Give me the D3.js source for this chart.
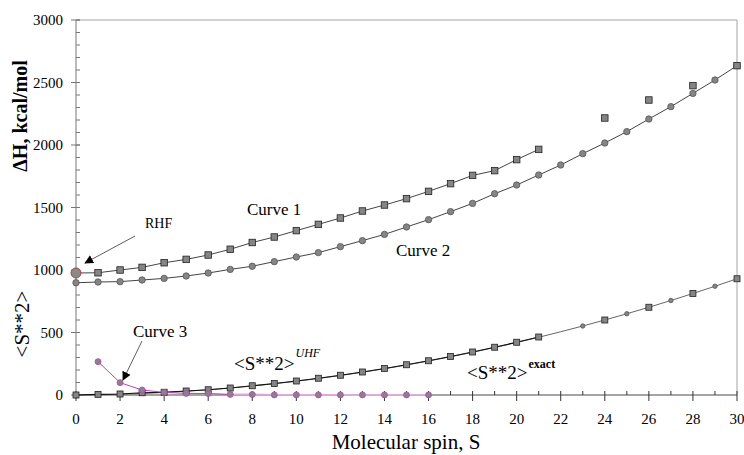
<!DOCTYPE html>
<html>
<head>
<meta charset="utf-8">
<script src="https://cdn.jsdelivr.net/npm/d3@7"></script>
<style>
  body { margin: 0; background: #fff; }
</style>
</head>
<body>
<svg id="chart" width="744" height="455"></svg>
<script>
// ── data ──────────────────────────────────────────────
const spin = d3.range(0, 31);
const curve1S = [0, 1, 2, 3, 4, 5, 6, 7, 8, 9, 10, 11, 12, 13, 14, 15, 16, 17, 18, 19, 20, 21];
const curve1H = [976, 978, 1000, 1021, 1058, 1085, 1120, 1166, 1220, 1264, 1315, 1365, 1416, 1472, 1520, 1571, 1629, 1691, 1757, 1795, 1883, 1965];
const extraS = [24, 26, 28, 30];
const extraH = [2216, 2360, 2475, 2635];
const curve2H = [898, 904, 907, 920, 933, 952, 976, 1005, 1030, 1067, 1104, 1139, 1187, 1235, 1285, 1344,
  1403, 1467, 1533, 1610, 1680, 1760, 1840, 1931, 2016, 2107, 2208, 2307, 2413, 2520, 2635];
const curve3S = [1, 2, 3, 4, 5, 6, 7, 8, 9, 10, 11, 12, 13, 14, 15, 16];
const curve3H = [267, 99, 40, 21, 13, 12, 5, 4, 1, 1, 1, 1, 1, 1, 1, 1];
const exactS2 = [0, 2, 6, 12, 20, 30, 42, 56, 72, 90, 110, 132, 156, 182, 210, 240, 272, 306, 342, 380, 420,
  462, 506, 552, 600, 650, 702, 756, 812, 870, 930];
const uhfS = [0, 1, 2, 3, 4, 5, 6, 7, 8, 9, 10, 11, 12, 13, 14, 15, 16, 17, 18, 19, 20, 21, 24, 26, 28, 30];
const uhfS2 = [0, 5, 8, 18, 22, 32, 42, 56, 74, 92, 112, 134, 158, 184, 212, 242, 274, 308, 344, 382, 422, 464, 600, 702, 812, 930];
const xTicks = d3.range(0, 31, 2);
const yTicks = d3.range(0, 3001, 500);

// ── scales ────────────────────────────────────────────
const svg = d3.select('#chart');
const x = d3.scaleLinear().domain([0, 30]).range([76, 737]);
const y = d3.scaleLinear().domain([0, 3000]).range([395, 20]);
const axisCol = '#a4a4a4';
const serif = 'Liberation Serif';

// frame (top + right)
svg.append('line').attr('x1', x(0)).attr('x2', x(30)).attr('y1', y(3000)).attr('y2', y(3000))
  .attr('stroke', axisCol).attr('stroke-width', 1);
svg.append('line').attr('x1', x(30)).attr('x2', x(30)).attr('y1', y(3000)).attr('y2', y(0))
  .attr('stroke', axisCol).attr('stroke-width', 1);

// y axis
const yAxis = svg.append('g');
yAxis.append('line').attr('x1', x(0)).attr('x2', x(0)).attr('y1', y(3000)).attr('y2', y(0) + 4)
  .attr('stroke', axisCol).attr('stroke-width', 1.5);
yAxis.selectAll('.minor').data(d3.range(0, 3001, 100)).enter().append('line')
  .attr('x1', x(0)).attr('x2', x(0) + 4).attr('y1', d => y(d)).attr('y2', d => y(d))
  .attr('stroke', '#777');
yAxis.selectAll('.major').data(yTicks).enter().append('line')
  .attr('x1', x(0) - 5).attr('x2', x(0) + 4).attr('y1', d => y(d)).attr('y2', d => y(d))
  .attr('stroke', '#777');
yAxis.selectAll('text').data(yTicks).enter().append('text')
  .attr('x', 63).attr('y', d => y(d) + 5).attr('text-anchor', 'end')
  .attr('font-family', serif).attr('font-size', 15).text(d => d);

// x axis
const xAxis = svg.append('g');
xAxis.append('line').attr('x1', x(0) - 4).attr('x2', x(30)).attr('y1', y(0)).attr('y2', y(0))
  .attr('stroke', axisCol).attr('stroke-width', 2);
xAxis.selectAll('.minor').data(spin).enter().append('line')
  .attr('x1', d => x(d)).attr('x2', d => x(d)).attr('y1', y(0) - 4).attr('y2', y(0))
  .attr('stroke', '#333');
xAxis.selectAll('.major').data(xTicks).enter().append('line')
  .attr('x1', d => x(d)).attr('x2', d => x(d)).attr('y1', y(0)).attr('y2', y(0) + 6)
  .attr('stroke', '#333');
xAxis.selectAll('text').data(xTicks).enter().append('text')
  .attr('x', d => x(d)).attr('y', 424).attr('text-anchor', 'middle')
  .attr('font-family', serif).attr('font-size', 15).text(d => d);

// ── lines ─────────────────────────────────────────────
const line = d3.line().x(d => x(d[0])).y(d => y(d[1]));
const zip = (a, b) => a.map((v, i) => [v, b[i]]);

const c1 = zip(curve1S, curve1H);
const c2 = zip(spin, curve2H);
const c3 = zip(curve3S, curve3H);
const ex = zip(spin, exactS2);
const uh = zip(uhfS, uhfS2);

svg.append('path').attr('d', line(ex)).attr('fill', 'none').attr('stroke', '#666').attr('stroke-width', 1);
svg.append('path').attr('d', line(uh.filter(d => d[0] <= 21))).attr('fill', 'none').attr('stroke', '#111').attr('stroke-width', 1.2);
svg.append('path').attr('d', line(c3.filter(d => d[0] >= 7))).attr('fill', 'none').attr('stroke', '#e0a8dc').attr('stroke-width', 2);
svg.append('path').attr('d', line(c3.filter(d => d[0] <= 7))).attr('fill', 'none').attr('stroke', '#c040b4').attr('stroke-width', 1);
svg.append('path').attr('d', line(c1)).attr('fill', 'none').attr('stroke', '#444').attr('stroke-width', 1);
svg.append('path').attr('d', line(c2)).attr('fill', 'none').attr('stroke', '#444').attr('stroke-width', 1);

// ── markers ───────────────────────────────────────────
function squares(data, s) {
  svg.append('g').selectAll('rect').data(data).enter().append('rect')
    .attr('x', d => x(d[0]) - s / 2).attr('y', d => y(d[1]) - s / 2)
    .attr('width', s).attr('height', s)
    .attr('fill', '#858585').attr('stroke', '#222').attr('stroke-width', 0.8);
}
function circles(data, r, stroke) {
  svg.append('g').selectAll('circle').data(data).enter().append('circle')
    .attr('cx', d => x(d[0])).attr('cy', d => y(d[1])).attr('r', r)
    .attr('fill', '#858585').attr('stroke', stroke).attr('stroke-width', 0.8);
}

circles(ex.filter(d => d[0] > 21 && d[0] % 2 === 1), 2.2, '#555');
squares(uh, 6);
circles(c3, 3, '#c040b4');
circles(c2, 3.2, '#555');
squares(c1.slice(1), 6.5);
squares(zip(extraS, extraH), 6.5);
// RHF point
svg.append('circle').attr('cx', x(0)).attr('cy', y(curve1H[0])).attr('r', 5)
  .attr('fill', '#8a8a8a').attr('stroke', '#b04040').attr('stroke-width', 1);

// ── annotations ───────────────────────────────────────
const defs = svg.append('defs');
defs.append('marker').attr('id', 'tri').attr('viewBox', '0 0 10 10')
  .attr('refX', 9).attr('refY', 5).attr('markerWidth', 9).attr('markerHeight', 9)
  .attr('markerUnits', 'userSpaceOnUse').attr('orient', 'auto')
  .append('path').attr('d', 'M0,0L10,5L0,10Z').attr('fill', '#000');

svg.append('line').attr('x1', 135).attr('y1', 236).attr('x2', 85).attr('y2', 263)
  .attr('stroke', '#333').attr('stroke-width', 0.8).attr('marker-end', 'url(#tri)');
svg.append('line').attr('x1', 142).attr('y1', 341).attr('x2', 123).attr('y2', 380)
  .attr('stroke', '#333').attr('stroke-width', 0.8).attr('marker-end', 'url(#tri)');

function label(xp, yp, size, txt) {
  const t = svg.append('text').attr('x', xp).attr('y', yp).attr('font-family', serif)
    .attr('font-size', size);
  if (txt) t.text(txt);
  return t;
}
label(145, 228, 14, 'RHF');
label(247, 215, 17, 'Curve 1');
label(396, 256, 17, 'Curve 2');
label(133, 337, 17, 'Curve 3');

const uhfLab = label(234, 370, 19, null);
uhfLab.append('tspan').text('<S**2>');
uhfLab.append('tspan').attr('dy', -13).attr('dx', 1).attr('font-size', 12).attr('font-style', 'italic').text('UHF');

const exLab = label(467, 379, 19, null);
exLab.append('tspan').text('<S**2>');
exLab.append('tspan').attr('dy', -11).attr('dx', 1).attr('font-size', 12).attr('font-weight', 'bold').text('exact');

// axis titles
svg.append('text').attr('transform', 'translate(27,116) rotate(-90)').attr('text-anchor', 'middle')
  .attr('font-family', serif).attr('font-size', 20).attr('font-weight', 'bold').text('ΔH, kcal/mol');
svg.append('text').attr('transform', 'translate(29,324) rotate(-90)').attr('text-anchor', 'middle')
  .attr('font-family', serif).attr('font-size', 21).text('<S**2>');
svg.append('text').attr('x', 406).attr('y', 449).attr('text-anchor', 'middle')
  .attr('font-family', serif).attr('font-size', 21).text('Molecular spin, S');
</script>
</body>
</html>
